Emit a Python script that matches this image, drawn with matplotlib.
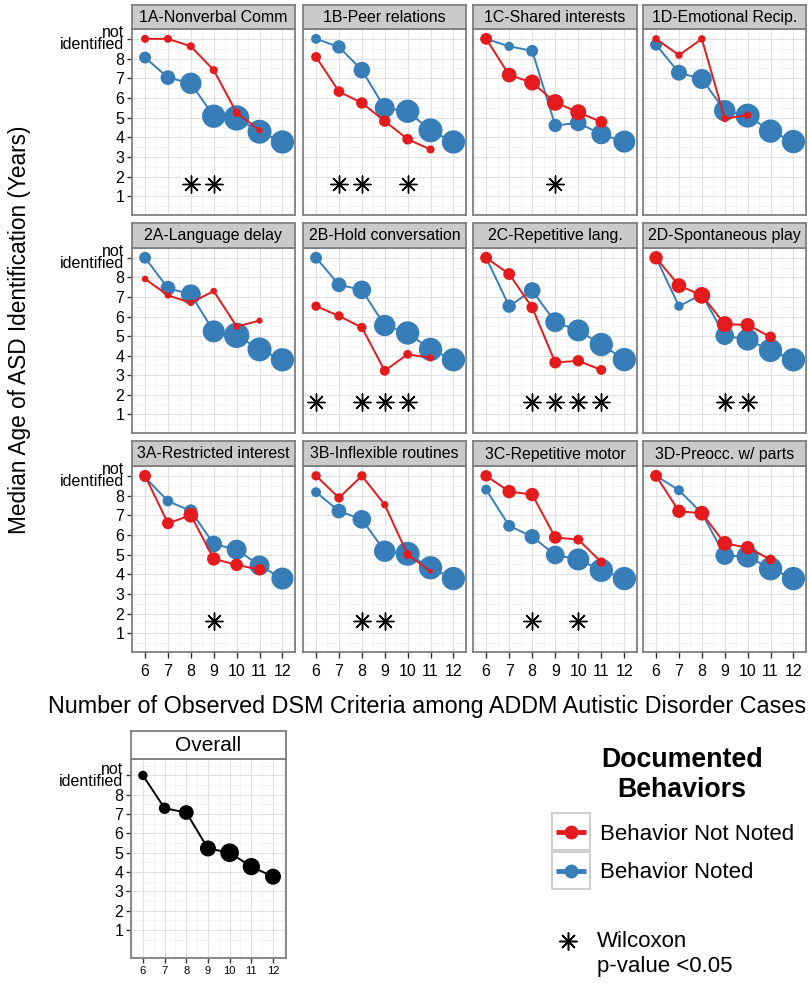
import numpy as np
import matplotlib.pyplot as plt
from matplotlib.lines import Line2D
from matplotlib.patches import Rectangle

plt.rcParams['font.family'] = ['Liberation Sans', 'DejaVu Sans']

W, H = 809, 983
RED = '#E41A1C'
BLUE = '#377EB8'

X_NOTED = [6, 7, 8, 9, 10, 11, 12]
X_NOT_NOTED = [6, 7, 8, 9, 10, 11]

PANELS = ['1A-Nonverbal Comm', '1B-Peer relations', '1C-Shared interests', '1D-Emotional Recip.',
          '2A-Language delay', '2B-Hold conversation', '2C-Repetitive lang.', '2D-Spontaneous play',
          '3A-Restricted interest', '3B-Inflexible routines', '3C-Repetitive motor', '3D-Preocc. w/ parts']

# median age, behavior noted (blue), x = 6..12 criteria
NOTED_AGE = [
    [8.05, 7.03, 6.74, 5.07, 4.98, 4.28, 3.76],
    [9.0, 8.59, 7.41, 5.49, 5.32, 4.35, 3.76],
    [9.0, 8.62, 8.39, 4.60, 4.73, 4.15, 3.78],
    [8.70, 7.28, 6.96, 5.35, 5.10, 4.31, 3.78],
    [9.0, 7.45, 7.13, 5.24, 5.04, 4.32, 3.79],
    [9.0, 7.62, 7.36, 5.54, 5.16, 4.32, 3.79],
    [9.0, 6.53, 7.33, 5.71, 5.29, 4.57, 3.80],
    [9.0, 6.53, 7.13, 5.02, 4.82, 4.27, 3.79],
    [8.92, 7.72, 7.21, 5.54, 5.25, 4.45, 3.78],
    [8.17, 7.21, 6.79, 5.17, 5.04, 4.33, 3.78],
    [8.30, 6.46, 5.91, 4.98, 4.75, 4.20, 3.78],
    [9.0, 8.27, 7.10, 4.95, 4.90, 4.28, 3.78],
]
NOTED_N = [
    [26, 40, 84, 100, 118, 106, 100],
    [18, 33, 51, 73, 100, 106, 100],
    [12, 16, 26, 33, 51, 73, 89],
    [26, 47, 73, 84, 106, 100, 100],
    [26, 40, 73, 89, 118, 106, 100],
    [26, 40, 64, 84, 100, 100, 100],
    [12, 33, 51, 73, 89, 100, 100],
    [18, 16, 33, 64, 89, 100, 100],
    [16, 21, 33, 51, 73, 73, 89],
    [18, 40, 64, 84, 106, 100, 100],
    [18, 26, 43, 64, 89, 100, 100],
    [16, 18, 33, 64, 89, 100, 100],
]

# median age, behavior not noted (red), x = 6..11 criteria
NOT_NOTED_AGE = [
    [9.0, 9.0, 8.62, 7.41, 5.24, 4.35],
    [8.08, 6.32, 5.74, 4.82, 3.90, 3.38],
    [9.0, 7.16, 6.78, 5.77, 5.27, 4.78],
    [9.0, 8.17, 9.0, 4.95, 5.12],
    [7.92, 7.08, 6.70, 7.30, 5.49, 5.79],
    [6.53, 6.03, 5.44, 3.23, 4.07, 3.89],
    [9.0, 8.17, 6.46, 3.65, 3.74, 3.27],
    [9.0, 7.58, 7.08, 5.61, 5.57, 4.96],
    [9.0, 6.59, 7.00, 4.78, 4.48, 4.23],
    [9.0, 7.88, 9.0, 7.53, 5.00, 4.15],
    [9.0, 8.20, 8.05, 5.87, 5.76, 4.62],
    [9.0, 7.20, 7.10, 5.57, 5.35, 4.75],
]
NOT_NOTED_N = [
    [12, 12, 12, 12, 12, 7],
    [18, 21, 24, 24, 21, 12],
    [26, 40, 47, 51, 47, 26],
    [10, 10, 10, 10, 10],
    [8, 8, 8, 8, 8, 7],
    [16, 16, 16, 18, 14, 10],
    [26, 26, 24, 26, 24, 18],
    [33, 40, 51, 47, 36, 21],
    [26, 26, 40, 33, 29, 24],
    [16, 16, 16, 10, 14, 4],
    [24, 33, 33, 29, 18, 16],
    [26, 33, 40, 40, 33, 18],
]

# criteria counts with Wilcoxon p < 0.05
WILCOXON = [[8, 9], [7, 8, 10], [9], [],
            [], [6, 8, 9, 10], [8, 9, 10, 11], [9, 10],
            [9], [8, 9], [8, 10], []]

OVERALL_AGE = [9.0, 7.30, 7.08, 5.22, 5.00, 4.28, 3.76]
OVERALL_N = [16, 24, 40, 47, 64, 55, 47]

Y_TICKS = [1, 2, 3, 4, 5, 6, 7, 8, 9]
Y_LABELS = ['1', '2', '3', '4', '5', '6', '7', '8', 'not\nidentified']

COLS = [(132, 295), (303, 466), (473, 637), (643, 806)]
ROWS = [(5, 29, 215), (223, 248, 433), (441, 466, 652)]


def px_rect(x0, y0, x1, y1):
    return [x0 / W, 1 - y1 / H, (x1 - x0) / W, (y1 - y0) / H]


def style_panel(ax, ylim, xlim):
    ax.set_xlim(*xlim)
    ax.set_ylim(*ylim)
    ax.set_xticks(X_NOTED)
    ax.set_xticks(np.arange(5.5, 12.6, 1.0), minor=True)
    ax.set_yticks(Y_TICKS)
    ax.set_yticks(np.arange(0.5, 9.6, 1.0), minor=True)
    ax.grid(which='major', color='#e0e0e0', lw=0.8)
    ax.grid(which='minor', color='#f1f1f1', lw=0.6)
    ax.set_axisbelow(True)
    for sp in ax.spines.values():
        sp.set_color('#7f7f7f')
        sp.set_linewidth(1.3)
    ax.tick_params(which='minor', length=0)
    ax.tick_params(which='major', length=3.5, width=1.0, color='#333333', labelsize=11.5, pad=2)


def add_strip(x0, y0, x1, y1, text, face='#cacaca', size=11.4):
    sax = fig.add_axes(px_rect(x0, y0, x1, y1))
    sax.set_facecolor(face)
    sax.set_xticks([])
    sax.set_yticks([])
    for sp in sax.spines.values():
        sp.set_color('#7f7f7f')
        sp.set_linewidth(1.3)
    sax.text(0.5, 0.48, text, ha='center', va='center', fontsize=size, transform=sax.transAxes)


def set_ylabels(ax):
    ax.set_yticklabels(Y_LABELS)
    for lab in ax.get_yticklabels():
        lab.set_linespacing(0.75)


fig = plt.figure(figsize=(W / 100, H / 100), dpi=100)
fig.patch.set_facecolor('white')

SIZE_K = 2.82

for i, title in enumerate(PANELS):
    r, c = divmod(i, 4)
    x0, x1 = COLS[c]
    st, y0, y1 = ROWS[r]
    ax = fig.add_axes(px_rect(x0, y0, x1, y1))
    style_panel(ax, (0.05, 9.37), (5.43, 12.55))
    add_strip(x0, st, x1, y0, title)

    ax.plot(X_NOTED, NOTED_AGE[i], color=BLUE, lw=1.4, zorder=2)
    ax.scatter(X_NOTED, NOTED_AGE[i], s=np.array(NOTED_N[i]) * SIZE_K, color=BLUE, lw=0, zorder=3)
    xr = X_NOT_NOTED[:len(NOT_NOTED_AGE[i])]
    ax.plot(xr, NOT_NOTED_AGE[i], color=RED, lw=1.4, zorder=4)
    ax.scatter(xr, NOT_NOTED_AGE[i], s=np.array(NOT_NOTED_N[i]) * SIZE_K, color=RED, lw=0, zorder=5)

    if WILCOXON[i]:
        ax.scatter(WILCOXON[i], [1.65] * len(WILCOXON[i]), marker=(8, 2, 0), s=150,
                   color='black', lw=1.0, zorder=6)

    if c == 0:
        set_ylabels(ax)
    else:
        ax.tick_params(axis='y', which='both', left=False, labelleft=False)
    if r == 2:
        ax.set_xticklabels([str(v) for v in X_NOTED])
        ax.tick_params(axis='x', length=4.5, pad=4)
    else:
        ax.tick_params(axis='x', which='both', bottom=False, labelbottom=False)

fig.text(427 / W, 1 - 706 / H, 'Number of Observed DSM Criteria among ADDM Autistic Disorder Cases',
         ha='center', va='center', fontsize=16.8)
fig.text(20 / W, 1 - 330 / H, 'Median Age of ASD Identification (Years)',
         ha='center', va='center', rotation=90, fontsize=16.3)

# overall panel
ax = fig.add_axes(px_rect(131, 759, 286, 958))
style_panel(ax, (-0.45, 9.85), (5.45, 12.6))
add_strip(131, 731, 286, 759, 'Overall', face='white', size=15)
ax.plot(X_NOTED, OVERALL_AGE, color='black', lw=1.4, zorder=2)
ax.scatter(X_NOTED, OVERALL_AGE, s=np.array(OVERALL_N) * SIZE_K, color='black', lw=0, zorder=3)
set_ylabels(ax)
ax.set_xticklabels([str(v) for v in X_NOTED])
ax.tick_params(axis='x', labelsize=8, length=3.5, pad=2)

# legend
fig.text(682 / W, 1 - 775 / H, 'Documented\nBehaviors', ha='center', va='center',
         fontsize=19.3, fontweight='bold', linespacing=1.2)
lax = fig.add_axes(px_rect(551, 812, 591, 890))
lax.set_xlim(0, 1)
lax.set_ylim(0, 2)
lax.axis('off')
for yb, col in [(1, RED), (0, BLUE)]:
    lax.add_patch(Rectangle((0.02, yb + 0.02), 0.96, 0.96, fill=False, edgecolor='#cfcfcf', lw=1.5))
    lax.plot([0.12, 0.88], [yb + 0.5, yb + 0.5], color=col, lw=3.5, solid_capstyle='butt')
    lax.plot([0.5], [yb + 0.5], marker='o', ms=10, color=col, mew=0)
fig.text(600 / W, 1 - 834 / H, 'Behavior Not Noted', ha='left', va='center', fontsize=16)
fig.text(600 / W, 1 - 872 / H, 'Behavior Noted', ha='left', va='center', fontsize=16)

fig.add_artist(Line2D([568 / W], [1 - 941 / H], marker=(8, 2, 0), ms=13, color='black',
                      mew=1.1, linestyle='none', transform=fig.transFigure))
fig.text(597 / W, 1 - 954 / H, 'Wilcoxon\np-value <0.05', ha='left', va='center',
         fontsize=16, linespacing=1.2)

fig.savefig('out.png', dpi=100, facecolor='white')
